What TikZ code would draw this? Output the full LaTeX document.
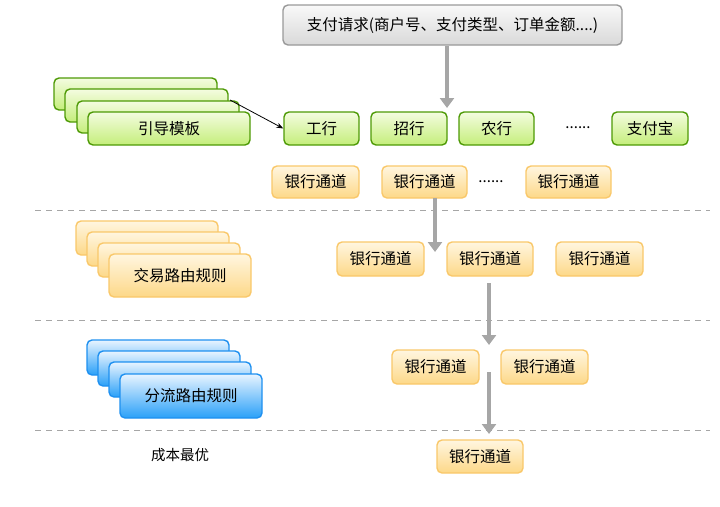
\documentclass[tikz,border=0pt]{standalone}
\usepackage{fontspec}
\setmainfont{Noto Sans CJK SC}
\usetikzlibrary{arrows.meta}
\definecolor{gbd}{HTML}{4E9A06}\definecolor{gtop}{HTML}{F4FCE0}\definecolor{gbot}{HTML}{C4EE7A}
\definecolor{obd}{HTML}{F9C86A}\definecolor{otop}{HTML}{FFF6E0}\definecolor{obot}{HTML}{FDD888}
\definecolor{bbd}{HTML}{1E90F0}\definecolor{btop}{HTML}{E8F4FF}\definecolor{bbot}{HTML}{2AA0F8}
\tikzset{x=1pt,y=-1pt,
 box/.style={rounded corners=5pt,line width=1.4pt,inner sep=0pt,font=\fontsize{15.5}{15.5}\selectfont},
 green/.style={box,draw=gbd,top color=gtop,bottom color=gbot},
 orange/.style={box,draw=obd,top color=otop,bottom color=obot},
 blue/.style={box,draw=bbd,top color=btop,bottom color=bbot},
 gray/.style={box,draw=gray!80,top color=gray!5,bottom color=gray!30},
 big/.style={draw=gray!70,line width=4pt,-{Triangle[length=10pt,width=14pt]}},
 sepline/.style={draw=gray!70,line width=1pt,dash pattern=on 6pt off 5pt}}
\newcommand{\bx}[5]{\node[#1,minimum width=#4-#2,minimum height=#5-#3] at ({(#2+#4)/2},{(#3+#5)/2})}
\begin{document}
\begin{tikzpicture}
\useasboundingbox (0,0) rectangle (720,506);
\bx{gray}{283}{5}{622}{45} (req) {支付请求(商户号、支付类型、订单金额....)};
% green stack
\bx{green}{54}{78}{217}{110} (g1) {};
\bx{green}{65}{89}{228}{122} (g2) {};
\bx{green}{77}{101}{239}{133} (g3) {};
\bx{green}{88}{112}{250}{145} (g4) {引导模板};
\bx{green}{284}{112}{359}{145} (b1) {工行};
\bx{green}{371}{112}{447}{145} (b2) {招行};
\bx{green}{459}{112}{534}{145} (b3) {农行};
\node[font=\fontsize{15}{15}\selectfont] (dots1) at (578,128) {......};
\bx{green}{612}{112}{688}{145} (b4) {支付宝};
\coordinate (gs) at (230,100);
\draw[-{Stealth[length=7pt]},thick] (gs) -- (b1.west);
\coordinate (a0s) at (447,46); \coordinate (a0) at (447,108);
\draw[big] (a0s) -- (a0);
% row1
\bx{orange}{272}{166}{359}{198} (c11) {银行通道};
\bx{orange}{382}{166}{467}{198} (c12) {银行通道};
\node[font=\fontsize{15}{15}\selectfont] (dots2) at (491,182) {......};
\bx{orange}{526}{166}{611}{198} (c13) {银行通道};
\draw[sepline] (35,210) -- (710,210);
% orange stack
\bx{orange}{76}{221}{218}{255} (o1) {};
\bx{orange}{87}{232}{229}{266} (o2) {};
\bx{orange}{98}{243}{240}{277} (o3) {};
\bx{orange}{109}{254}{251}{297} (o4) {交易路由规则};
\bx{orange}{337}{242}{424}{276} (c21) {银行通道};
\bx{orange}{447}{242}{533}{276} (c22) {银行通道};
\bx{orange}{556}{242}{643}{276} (c23) {银行通道};
\coordinate (a1s) at (435,198); \coordinate (a1e) at (435,252);
\draw[big] (a1s) -- (a1e);
\draw[sepline] (35,320) -- (710,320);
% blue stack
\bx{blue}{87}{340}{229}{375} (u1) {};
\bx{blue}{98}{351}{240}{386} (u2) {};
\bx{blue}{109}{362}{251}{397} (u3) {};
\bx{blue}{120}{374}{262}{418} (u4) {分流路由规则};
\bx{orange}{392}{350}{479}{384} (c31) {银行通道};
\bx{orange}{501}{350}{588}{384} (c32) {银行通道};
\coordinate (a2s) at (489,283); \coordinate (a2e) at (489,345);
\draw[big] (a2s) -- (a2e);
\draw[sepline] (35,430) -- (710,430);
\node[font=\fontsize{14.5}{14.5}\selectfont] (cost) at (180,455) {成本最优};
\bx{orange}{437}{440}{523}{473} (c41) {银行通道};
\coordinate (a3s) at (489,372); \coordinate (a3e) at (489,434);
\draw[big] (a3s) -- (a3e);
\end{tikzpicture}
\end{document}
